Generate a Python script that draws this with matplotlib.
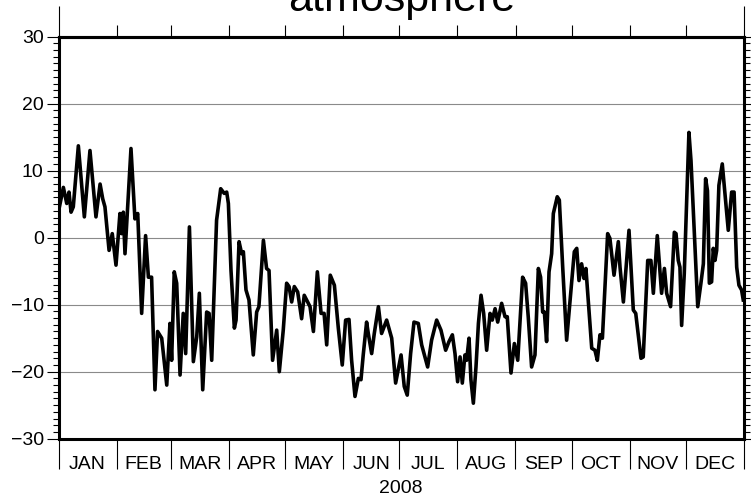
import matplotlib
matplotlib.use("Agg")
import matplotlib.pyplot as plt
from matplotlib.ticker import FixedLocator, FixedFormatter, NullFormatter, MultipleLocator

plt.rcParams['font.family'] = ['Liberation Sans', 'DejaVu Sans']

# ---- data (day of year 2008, value) ----
days = [0.5, 2.6, 4.4, 5.6, 6.7, 7.9, 10.6, 13.8, 16.8, 20.0, 22.2, 23.6, 24.8, 27.0, 28.7,
        30.7, 32.8, 33.7, 34.6, 35.5, 38.7, 40.8, 42.3, 44.4, 46.5, 48.0, 49.7, 51.5, 52.9,
        55.1, 57.8, 59.5, 60.4, 61.8, 63.1, 64.9, 66.6, 67.9, 69.9, 72.0, 73.8, 75.2, 77.0,
        79.1, 80.4, 81.8, 84.4, 86.6, 88.5, 89.8,
        90.7, 92.1, 93.9, 94.8, 96.4, 97.8, 98.7, 100.1, 101.7, 104.0, 105.8, 107.0, 109.4,
        111.1, 112.4, 114.3, 116.5, 117.9, 120.0, 121.8, 123.1, 124.5, 125.9, 127.7, 129.8,
        131.2, 133.0, 134.3, 136.1, 138.2, 140.2, 141.8, 143.2, 145.1, 147.3, 149.4, 151.5,
        153.3, 155.1, 156.5, 158.3, 160.1, 161.5, 162.7, 164.5, 165.4, 167.2, 168.6, 170.8,
        172.5, 175.2, 177.9, 180.0,
        182.9, 184.6, 186.2, 188.0, 189.8, 192.1, 193.9, 197.1, 199.2, 201.9, 204.2, 206.7,
        208.5, 210.3, 211.7, 213.1, 214.4, 215.6, 217.0, 217.9, 219.2, 220.2, 221.5, 222.9,
        224.2, 225.6, 227.0, 228.6, 230.4, 231.6, 233.1, 234.5, 236.6, 238.4, 239.6, 241.6,
        243.4, 245.2, 247.8, 249.4, 250.8, 252.6, 254.4, 256.2, 257.4, 258.5, 259.4, 260.6,
        261.9, 263.3, 264.2, 266.3, 267.4, 269.2, 271.3,
        275.4, 276.7, 277.9, 279.3, 280.6, 281.6, 284.7, 286.4, 287.7, 289.1, 290.4, 293.2,
        294.4, 296.6, 298.9, 299.8, 301.6, 302.5, 304.6, 306.9, 308.2, 311.0, 312.2, 314.6,
        316.3, 317.6, 319.7, 322.0, 323.5, 324.7, 326.8, 328.8, 329.7, 330.9, 331.8, 332.7,
        334.1, 336.6, 337.7, 339.5, 341.3, 343.0, 344.3, 345.5, 346.5, 347.5, 348.7, 349.6,
        350.5, 351.4, 352.6, 354.4, 357.6, 359.4, 360.7, 362.1, 363.3, 364.7, 365.6]

values = [4.6, 7.5, 5.1, 6.8, 3.8, 4.6, 13.7, 3.1, 13.0, 3.1, 8.0, 5.8, 4.6, -1.9, 0.6,
          -4.1, 3.6, 0.6, 3.8, -2.4, 13.3, 2.8, 3.6, -11.3, 0.3, -5.9, -5.9, -22.7, -14.0,
          -15.0, -22.0, -12.8, -18.3, -5.1, -6.8, -20.5, -11.3, -17.3, 1.6, -18.5, -14.8, -8.3, -22.7,
          -11.1, -11.3, -18.3, 2.6, 7.3, 6.6, 6.8,
          5.1, -4.9, -13.5, -12.3, -0.6, -2.4, -2.1, -7.8, -9.3, -17.5, -11.1, -10.3, -0.4,
          -4.6, -4.9, -18.3, -13.8, -20.0, -13.8, -6.8, -7.3, -9.6, -7.3, -8.1, -12.1,
          -8.6, -9.6, -10.3, -14.0, -5.1, -11.3, -11.3, -16.0, -5.6, -7.1, -13.5, -19.0,
          -12.3, -12.2, -18.3, -23.7, -21.0, -21.2, -17.5, -12.6, -14.3, -17.3, -14.3, -10.3,
          -14.3, -12.3, -15.0, -21.7,
          -17.5, -22.2, -23.5, -17.3, -12.6, -12.8, -16.0, -19.3, -15.3, -12.3, -13.8, -16.8,
          -15.5, -14.5, -17.3, -21.5, -17.8, -21.7, -17.5, -18.3, -15.0, -21.2, -24.7, -19.3,
          -12.8, -8.6, -11.3, -16.8, -11.3, -12.3, -10.6, -12.6, -9.8, -11.8, -11.8, -20.2,
          -15.8, -18.3, -5.9, -6.8, -11.8, -19.3, -17.5, -4.6, -5.9, -11.1, -11.1, -15.5,
          -5.1, -2.4, 3.6, 6.1, 5.6, -4.4, -15.3,
          -2.1, -1.6, -6.4, -3.9, -6.1, -4.6, -16.5, -16.8, -18.3, -14.5, -15.0, 0.6,
          -0.1, -5.6, -0.6, -4.4, -9.6, -6.4, 1.1, -10.8, -11.3, -18.0, -17.8, -3.4,
          -3.4, -8.3, 0.3, -8.3, -4.6, -8.3, -10.3, 0.8, 0.6, -3.4, -4.4, -13.1,
          -5.4, 15.7, 11.5, 0.6, -10.3, -6.8, -3.9, 8.8, 7.0, -6.8, -6.6, -1.6,
          -3.4, -1.9, 7.8, 11.0, 1.1, 6.8, 6.8, -4.4, -7.1, -7.8, -9.3]

month_starts = [0, 31, 60, 91, 121, 152, 182, 213, 244, 274, 305, 335, 366]
month_names = ['JAN', 'FEB', 'MAR', 'APR', 'MAY', 'JUN', 'JUL', 'AUG', 'SEP', 'OCT', 'NOV', 'DEC']
month_mids = [(month_starts[i] + month_starts[i + 1]) / 2 for i in range(12)]
y_ticks = [-30, -20, -10, 0, 10, 20, 30]
title = 'atmosphere'
year_label = '2008'

W, H = 751, 497
fig = plt.figure(figsize=(W / 100, H / 100), dpi=100)
L, R, T, B = 58.5, 744.0, 36.6, 438.7
ax = fig.add_axes([L / W, (H - B) / H, (R - L) / W, (B - T) / H])

ax.plot(days, values, color='black', lw=2.6, solid_joinstyle='round', zorder=3, clip_on=True)

ax.set_xlim(0, 366)
ax.set_ylim(-30, 30)

px = 0.72  # points per pixel
for s in ax.spines.values():
    s.set_linewidth(2.2)
    s.set_zorder(4)

# y axis
ax.set_yticks(y_ticks)
ax.yaxis.set_minor_locator(MultipleLocator(1))
ax.tick_params(axis='y', which='major', direction='out', length=12 * px, width=0.8,
               left=True, right=True, labelleft=True, labelright=False, labelsize=14, pad=2)
ax.tick_params(axis='y', which='minor', direction='out', length=6 * px, width=0.8,
               left=True, right=True)
ax.yaxis.grid(True, which='major', color='#8a8a8a', lw=0.8, zorder=1)

# bottom x axis: long month boundary ticks, labels at mid-month
ax.xaxis.set_major_locator(FixedLocator(month_starts))
ax.xaxis.set_major_formatter(NullFormatter())
ax.xaxis.set_minor_locator(FixedLocator(month_mids))
ax.xaxis.set_minor_formatter(FixedFormatter(month_names))
ax.tick_params(axis='x', which='major', direction='out', length=30 * px, width=0.8,
               bottom=True, top=False)
ax.tick_params(axis='x', which='minor', length=0, labelsize=14, pad=12.5, bottom=True, top=False)
ax.set_xlabel(year_label, fontsize=14, labelpad=4.5)

# top x axis: short month ticks, long edge ticks
sec = ax.secondary_xaxis('top')
sec.xaxis.set_major_locator(FixedLocator(month_starts[1:-1]))
sec.xaxis.set_major_formatter(NullFormatter())
sec.xaxis.set_minor_locator(FixedLocator([month_starts[0], month_starts[-1]]))
sec.xaxis.set_minor_formatter(NullFormatter())
sec.tick_params(axis='x', which='major', direction='out', length=12 * px, width=0.8)
sec.tick_params(axis='x', which='minor', direction='out', length=31 * px, width=0.8)
sec.spines['top'].set_linewidth(2.2)

fig.text(0.5 * (L + R) / W, (H - 11) / H, title, ha='center', va='baseline', fontsize=31)

fig.savefig('out.png', dpi=100)
